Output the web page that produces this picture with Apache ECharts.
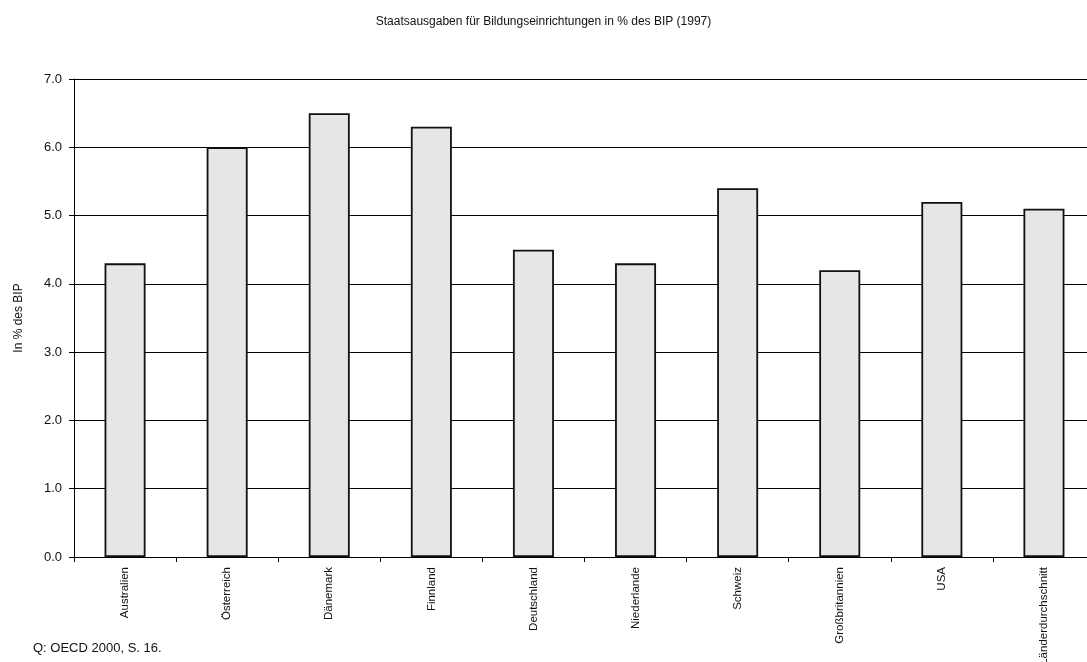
<!DOCTYPE html>
<html><head><meta charset="utf-8">
<script src="https://cdn.jsdelivr.net/npm/echarts@6/dist/echarts.min.js"></script>
<style>html,body{margin:0;padding:0;background:#fff}#c{width:1087px;height:662px}</style>
</head><body><div id="c"></div>
<script>
const categories = ["Australien","Österreich","Dänemark","Finnland","Deutschland","Niederlande","Schweiz","Großbritannien","USA","Länderdurchschnitt"];
const values = [4.3, 6.0, 6.5, 6.3, 4.5, 4.3, 5.4, 4.2, 5.2, 5.1];
const titleText = "Staatsausgaben für Bildungseinrichtungen in % des BIP (1997)";
const yAxisName = "In % des BIP";
const sourceText = "Q: OECD 2000, S. 16.";

const chart = echarts.init(document.getElementById('c'), null, {renderer:'canvas'});
const font = "'Liberation Sans', 'DejaVu Sans', sans-serif";
chart.setOption({
  animation: false,
  backgroundColor: '#fff',
  title: {
    text: titleText, left: 'center', top: 11,
    textStyle: {fontFamily: font, fontSize: 12, fontWeight: 'normal', color: '#111'}
  },
  graphic: [{
    type: 'text', left: 33, top: 642,
    style: {text: sourceText, font: "13px 'Liberation Sans', sans-serif", fill: '#111'}
  }],
  grid: {left: 74, right: -8, top: 79, bottom: 105, containLabel: false, outerBoundsMode: 'none'},
  xAxis: {
    type: 'category', data: categories,
    axisLine: {lineStyle: {color: '#000', width: 1}},
    axisTick: {show: true, length: 5, lineStyle: {color: '#000'}},
    axisLabel: {rotate: 90, fontFamily: font, fontSize: 11.5, color: '#111', margin: 10, interval: 0}
  },
  yAxis: {
    type: 'value', min: 0, max: 7, interval: 1,
    name: yAxisName, nameLocation: 'middle', nameGap: 49,
    nameTextStyle: {fontFamily: font, fontSize: 12, color: '#111'},
    axisLine: {show: true, lineStyle: {color: '#000', width: 1}},
    axisTick: {show: true, length: 5, lineStyle: {color: '#000'}},
    axisLabel: {formatter: v => v.toFixed(1), fontFamily: font, fontSize: 13, color: '#111', margin: 12},
    splitLine: {show: true, lineStyle: {color: '#000', width: 1}}
  },
  series: [{
    type: 'bar', data: values, barWidth: 41,
    itemStyle: {color: '#e6e6e6', borderColor: '#111', borderWidth: 1.8}
  }]
});
</script></body></html>
